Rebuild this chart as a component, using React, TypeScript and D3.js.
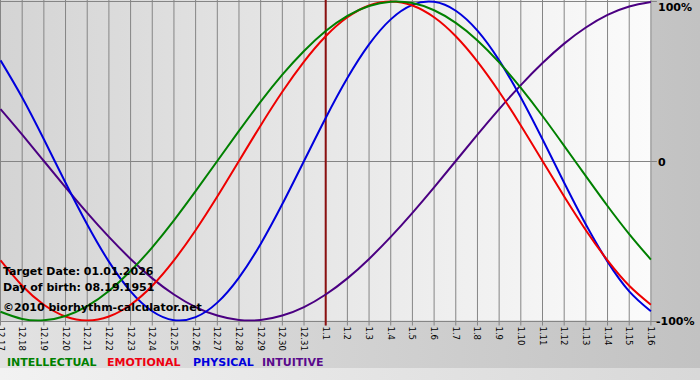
import React from "react";
import * as d3 from "d3";

const dayLabels = [
  "12.17", "12.18", "12.19", "12.20", "12.21", "12.22", "12.23", "12.24", "12.25", "12.26",
  "12.27", "12.28", "12.29", "12.30", "12.31", "1.1", "1.2", "1.3", "1.4", "1.5",
  "1.6", "1.7", "1.8", "1.9", "1.10", "1.11", "1.12", "1.13", "1.14", "1.15", "1.16",
];

const intellectual = [
  -0.945, -0.99, -0.999, -0.972, -0.91, -0.815, -0.69, -0.541, -0.372, -0.189,
  0.0, 0.189, 0.372, 0.541, 0.69, 0.815, 0.91, 0.972, 0.999, 0.99,
  0.945, 0.866, 0.756, 0.618, 0.458, 0.282, 0.095, -0.095, -0.282, -0.458, -0.618,
];
const emotional = [
  -0.623, -0.782, -0.901, -0.975, -1.0, -0.975, -0.901, -0.782, -0.623, -0.434,
  -0.223, 0.0, 0.223, 0.434, 0.623, 0.782, 0.901, 0.975, 1.0, 0.975,
  0.901, 0.782, 0.623, 0.434, 0.223, 0.0, -0.223, -0.434, -0.623, -0.782, -0.901,
];
const physical = [
  0.631, 0.398, 0.136, -0.136, -0.398, -0.631, -0.817, -0.942, -0.998, -0.979,
  -0.888, -0.731, -0.52, -0.27, 0.0, 0.27, 0.52, 0.731, 0.888, 0.979,
  0.998, 0.942, 0.817, 0.631, 0.398, 0.136, -0.136, -0.398, -0.631, -0.817, -0.942,
];
const intuitive = [
  0.325, 0.165, 0.0, -0.165, -0.325, -0.476, -0.614, -0.736, -0.837, -0.916,
  -0.969, -0.997, -0.997, -0.969, -0.916, -0.837, -0.736, -0.614, -0.476, -0.325,
  -0.165, 0.0, 0.165, 0.325, 0.476, 0.614, 0.736, 0.837, 0.916, 0.969, 0.997,
];

const targetLabel = "1.1";
const yTickValues = [1, 0, -1];
const yTickLabels = ["100%", "0", "-100%"];
const infoLines = ["Target Date: 01.01.2026", "Day of birth: 08.19.1951", "©2010 biorhythm-calculator.net"];

const seriesList = [
  { name: "INTUITIVE", values: intuitive, color: "#4b0082" },
  { name: "PHYSICAL", values: physical, color: "#0000dd" },
  { name: "EMOTIONAL", values: emotional, color: "#ee0000" },
  { name: "INTELLECTUAL", values: intellectual, color: "#008000" },
];
const legendOrder = [
  { name: "INTELLECTUAL", color: "#008000", x: 7 },
  { name: "EMOTIONAL", color: "#ee0011", x: 107 },
  { name: "PHYSICAL", color: "#0000dd", x: 193 },
  { name: "INTUITIVE", color: "#5a0a8c", x: 262 },
];

const W = 700;
const H = 380;
const plotLeft = 0.5;
const plotRight = 650.9;
const plotBottom = 320.5;

export default function App() {
  const x = d3.scalePoint<string>().domain(dayLabels).range([plotLeft, plotRight]);
  const y = d3.scaleLinear().domain([-1, 1]).range([320.5, 1.5]);
  const line = d3
    .line<number>()
    .x((_, i) => x(dayLabels[i]) as number)
    .y((v) => y(v))
    .curve(d3.curveNatural);
  const font = "'DejaVu Sans', Verdana, sans-serif";

  return (
    <svg
      width={W}
      height={H}
      style={{ position: "absolute", left: 0, top: 0, display: "block" }}
      xmlns="http://www.w3.org/2000/svg"
    >
      <defs>
        <linearGradient id="outerBg" x1="0" y1="0" x2="1" y2="0">
          <stop offset="0" stopColor="#e2e2e2" />
          <stop offset="1" stopColor="#c2c2c2" />
        </linearGradient>
        <linearGradient id="plotBg" x1="0" y1="0" x2="1" y2="0">
          <stop offset="0" stopColor="#d4d4d4" />
          <stop offset="1" stopColor="#fbfbfb" />
        </linearGradient>
        <linearGradient id="bottomBg" x1="0" y1="0" x2="1" y2="0">
          <stop offset="0" stopColor="#f2f2f2" />
          <stop offset="1" stopColor="#d8d8d8" />
        </linearGradient>
        <clipPath id="plotClip">
          <rect x={0} y={0} width={plotRight + 1} height={plotBottom + 1} />
        </clipPath>
      </defs>
      <rect x={0} y={0} width={W} height={H} fill="url(#outerBg)" />
      <rect x={0} y={368} width={W} height={H - 368} fill="url(#bottomBg)" />
      <rect x={0} y={0} width={plotRight} height={plotBottom} fill="url(#plotBg)" />

      {dayLabels.map((d) => (
        <line
          key={"g" + d}
          x1={x(d)}
          x2={x(d)}
          y1={0}
          y2={plotBottom + 5}
          stroke="#858585"
          strokeWidth={1}
        />
      ))}
      {yTickValues.map((v) => (
        <line
          key={"h" + v}
          x1={0}
          x2={plotRight + 6}
          y1={Math.round(y(v)) + 0.5 - (v === 1 ? 1 : 0)}
          y2={Math.round(y(v)) + 0.5 - (v === 1 ? 1 : 0)}
          stroke="#858585"
          strokeWidth={1}
        />
      ))}

      <line
        x1={x(targetLabel)}
        x2={x(targetLabel)}
        y1={0}
        y2={plotBottom + 5}
        stroke="#8b1010"
        strokeWidth={2}
      />

      <g clipPath="url(#plotClip)">
        {seriesList.map((s) => (
          <path key={s.name} d={line(s.values) || ""} fill="none" stroke={s.color} strokeWidth={2} />
        ))}
      </g>

      {dayLabels.map((d) => (
        <text
          key={"t" + d}
          transform={`translate(${x(d)},${plotBottom + 6}) rotate(90)`}
          dy="0.35em"
          fontFamily={font}
          fontSize={8.5}
          fill="#000"
        >
          {d}
        </text>
      ))}

      {yTickValues.map((v, i) => (
        <text
          key={"y" + v}
          x={v < 0 ? 656 : 658}
          y={y(v) + 4.5 + (v === 1 ? 5 : 0)}
          fontFamily={font}
          fontSize={11}
          fontWeight="bold"
          fill="#000"
        >
          {yTickLabels[i]}
        </text>
      ))}

      {infoLines.map((t, i) => (
        <text
          key={"i" + i}
          x={3}
          y={[275, 291, 311][i]}
          fontFamily={font}
          fontSize={11}
          fontWeight="bold"
          fill="#000"
        >
          {t}
        </text>
      ))}

      {legendOrder.map((l) => (
        <text
          key={"l" + l.name}
          x={l.x}
          y={366}
          fontFamily={font}
          fontSize={11}
          fontWeight="bold"
          fill={l.color}
        >
          {l.name}
        </text>
      ))}
    </svg>
  );
}
